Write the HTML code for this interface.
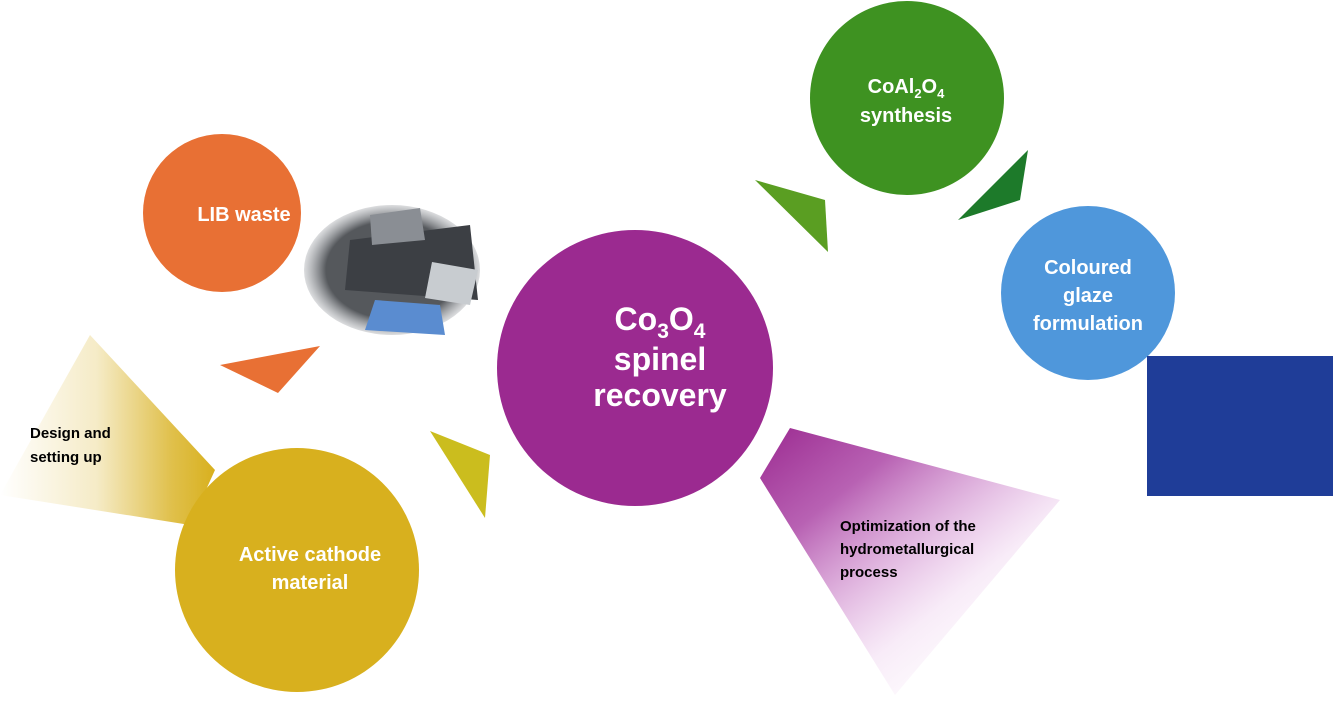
<!DOCTYPE html>
<html><head><meta charset="utf-8"><style>
html,body{margin:0;padding:0;background:#fff;}
svg{display:block}
text{font-family:"Liberation Sans",sans-serif;font-weight:bold;}
</style></head><body>
<svg width="1333" height="703" viewBox="0 0 1333 703" xmlns="http://www.w3.org/2000/svg">
<defs>
<linearGradient id="yg" x1="0" y1="0" x2="1" y2="0">
<stop offset="0" stop-color="#d8b01e" stop-opacity="0"/>
<stop offset="0.45" stop-color="#d8b01e" stop-opacity="0.25"/>
<stop offset="0.8" stop-color="#d8b01e" stop-opacity="0.8"/>
<stop offset="1" stop-color="#d8b01e"/>
</linearGradient>
<linearGradient id="pg" x1="0" y1="0" x2="0.8" y2="0.9">
<stop offset="0" stop-color="#9b2a90"/>
<stop offset="0.3" stop-color="#a63aa0" stop-opacity="0.8"/>
<stop offset="0.75" stop-color="#d080d0" stop-opacity="0.15"/>
<stop offset="1" stop-color="#e0a0e0" stop-opacity="0"/>
</linearGradient>
<radialGradient id="bat" cx="0.5" cy="0.5" r="0.5">
<stop offset="0.75" stop-color="#55585c"/>
<stop offset="1" stop-color="#8a8e94" stop-opacity="0.3"/>
</radialGradient>
</defs>
<polygon points="0,495 90,335 215,470 190,525" fill="url(#yg)"/>
<polygon points="790,428 1060,500 895,695 760,478" fill="url(#pg)"/>
<circle cx="222" cy="213" r="79" fill="#e87034"/>
<ellipse cx="392" cy="270" rx="88" ry="65" fill="url(#bat)"/>
<polygon points="350,240 470,225 478,300 345,290" fill="#3c3f44"/>
<polygon points="432,262 478,270 470,305 425,298" fill="#c8ccd0"/>
<polygon points="375,300 440,305 445,335 365,330" fill="#5a8cd0"/>
<polygon points="370,215 420,208 425,240 372,245" fill="#8a8e94"/>
<polygon points="220,365 320,346 278,393" fill="#e87034"/>
<circle cx="297" cy="570" r="122" fill="#d8b01e"/>
<polygon points="430,431 490,455 485,518" fill="#cbbd1e"/>
<circle cx="635" cy="368" r="138" fill="#9b2a90"/>
<polygon points="755,180 825,200 828,252" fill="#5a9e22"/>
<circle cx="907" cy="98" r="97" fill="#3e9221"/>
<polygon points="958,220 1028,150 1020,200" fill="#1d7a2a"/>
<circle cx="1088" cy="293" r="87" fill="#4f97db"/>
<rect x="1147" y="356" width="186" height="140" fill="#1f3d98"/>
<text x="244" y="221" fill="#fff" font-size="20" text-anchor="middle">LIB waste</text>
<text x="310" y="561" fill="#fff" font-size="20" text-anchor="middle">Active cathode</text>
<text x="310" y="589" fill="#fff" font-size="20" text-anchor="middle">material</text>
<text x="660" y="330" fill="#fff" font-size="32" text-anchor="middle">Co<tspan font-size="21" dy="8">3</tspan><tspan dy="-8">O</tspan><tspan font-size="21" dy="8">4</tspan></text>
<text x="660" y="370" fill="#fff" font-size="32" text-anchor="middle">spinel</text>
<text x="660" y="406" fill="#fff" font-size="32" text-anchor="middle">recovery</text>
<text x="906" y="93" fill="#fff" font-size="20" text-anchor="middle">CoAl<tspan font-size="13" dy="5">2</tspan><tspan dy="-5">O</tspan><tspan font-size="13" dy="5">4</tspan></text>
<text x="906" y="122" fill="#fff" font-size="20" text-anchor="middle">synthesis</text>
<text x="1088" y="274" fill="#fff" font-size="20" text-anchor="middle">Coloured</text>
<text x="1088" y="302" fill="#fff" font-size="20" text-anchor="middle">glaze</text>
<text x="1088" y="330" fill="#fff" font-size="20" text-anchor="middle">formulation</text>
<text x="30" y="438" fill="#000" font-size="15">Design and</text>
<text x="30" y="462" fill="#000" font-size="15">setting up</text>
<text x="840" y="531" fill="#000" font-size="15">Optimization of the</text>
<text x="840" y="554" fill="#000" font-size="15">hydrometallurgical</text>
<text x="840" y="577" fill="#000" font-size="15">process</text>
</svg>
</body></html>
